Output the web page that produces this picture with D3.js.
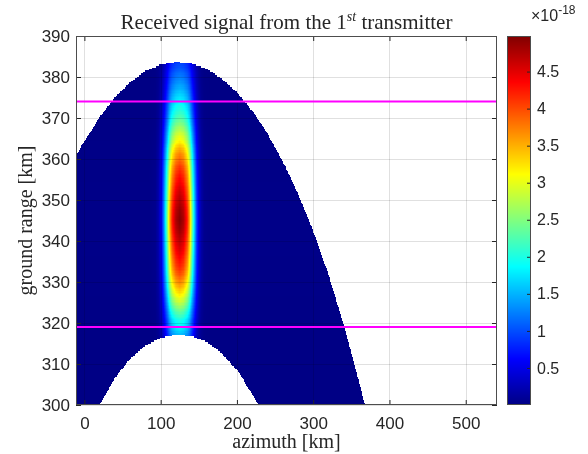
<!DOCTYPE html>
<html>
<head>
<meta charset="utf-8">
<script src="https://cdn.jsdelivr.net/npm/d3@7"></script>
<style>
  body { margin: 0; background: #fff; }
  #wrap { position: relative; width: 588px; height: 454px; }
  #wrap canvas, #wrap svg { position: absolute; left: 0; top: 0; }
  .tick text { font-family: "Liberation Sans", Arial, sans-serif; font-size: 17px; fill: #262626; }
  .cbar .tick text { font-size: 16px; }
  .serif { font-family: "Liberation Serif", "Times New Roman", serif; fill: #262626; }
</style>
</head>
<body>
<div id="wrap">
  <canvas id="img" width="588" height="454"></canvas>
  <svg id="chart" width="588" height="454"></svg>
</div>
<script>
// axis ticks
const xTicks = [0, 100, 200, 300, 400, 500];
const yTicks = [300, 310, 320, 330, 340, 350, 360, 370, 380, 390];
const cbTicks = [0.5, 1, 1.5, 2, 2.5, 3, 3.5, 4, 4.5];

// outer edge of the footprint (ground range km at azimuth km)
const upperAz = [-11, 0, 20, 40, 60, 80, 100, 120, 140, 160, 180, 200, 220, 240, 260, 280, 300, 320, 340, 360, 370, 541];
const upperGr = [360.9, 364.3, 370.2, 375.0, 378.7, 381.4, 383.0, 383.7, 383.3, 382.0, 379.6, 376.2, 371.7, 366.2, 359.5, 351.6, 342.4, 331.8, 319.6, 305.8, 298.2, 250];

// white hole at the bottom
const holeAz = [-11, 20, 40, 60, 80, 100, 120, 140, 160, 180, 200, 220, 228, 541];
const holeGr = [280, 300.0, 306.6, 311.3, 314.5, 316.4, 317.2, 316.9, 315.4, 312.6, 308.5, 302.8, 300.0, 280];

// signal along the beam centre (x1e-18) vs ground range
const rangeGr = [300, 310, 317, 318.3, 320.7, 323.2, 325.6, 328, 330.5, 333, 337.8, 342.7, 345.1, 347.6, 352.4, 357.3, 361.8, 364.2, 367.5, 370.7, 374, 377.2, 380.5, 384, 390];
const rangeVal = [0.6, 1.0, 1.5, 1.75, 2.0, 2.45, 2.95, 3.4, 3.8, 4.15, 4.55, 4.88, 4.97, 4.9, 4.6, 4.2, 3.65, 3.2, 2.7, 2.2, 1.85, 1.5, 1.2, 0.9, 0.5];

// relative beam pattern vs azimuth offset from the beam centre (km)
const beamOffset = [0, 5, 10, 13, 16, 19, 22, 25, 28, 32, 40, 600];
const beamGain = [1, 0.96, 0.85, 0.72, 0.52, 0.35, 0.2, 0.1, 0.04, 0.01, 0.004, 0.004];
const beamCentre = 125;

// magenta marker lines
const markerRanges = [374, 319];

const cMax = 4.98;

const plot = { left: 76, right: 497, top: 36, bottom: 405 };
const cb = { left: 507, right: 531 };

const x = d3.scaleLinear().domain([-11, 541]).range([plot.left, plot.right]);
const y = d3.scaleLinear().domain([300, 390]).range([plot.bottom, plot.top]);
const cy = d3.scaleLinear().domain([0, cMax]).range([plot.bottom, plot.top]);

const upper = d3.scaleLinear().domain(upperAz).range(upperGr);
const hole = d3.scaleLinear().domain(holeAz).range(holeGr);
const rangeProf = d3.scaleLinear().domain(rangeGr).range(rangeVal).clamp(true);
const beam = d3.scaleLinear().domain(beamOffset).range(beamGain).clamp(true);

const jet = d3.scaleLinear()
  .domain([0, 0.125, 0.375, 0.625, 0.875, 1].map(t => t * cMax))
  .range(['#000084', '#0000ff', '#00ffff', '#ffff00', '#ff0000', '#800000'])
  .clamp(true);

// ---- heat map on canvas
const ctx = document.getElementById('img').getContext('2d');
const nCols = 421, nRows = 246;
const dAz = (541 + 11) / nCols, dGr = 90 / nRows;

for (let i = 0; i < nCols; i++) {
  let a0 = -11 + i * dAz, a1 = a0 + dAz, ac = a0 + dAz / 2;
  let top = upper(ac), bot = hole(ac);
  let px0 = Math.round(x(a0)), px1 = Math.round(x(a1));
  for (let j = 0; j < nRows; j++) {
    let g0 = 300 + j * dGr, g1 = g0 + dGr, gc = g0 + dGr / 2;
    if (gc > top || gc < bot) continue;
    let v = rangeProf(gc) * beam(Math.abs(ac - beamCentre));
    ctx.fillStyle = jet(v);
    let py0 = Math.round(y(g1)), py1 = Math.round(y(g0));
    ctx.fillRect(px0, py0, px1 - px0, py1 - py0);
  }
}

// colour bar
for (let p = plot.top; p < plot.bottom; p++) {
  ctx.fillStyle = jet(cy.invert(p + 0.5));
  ctx.fillRect(cb.left, p, cb.right - cb.left, 1);
}

// ---- svg overlay
const svg = d3.select('#chart');

// grid on top of the image
const grid = svg.append('g').attr('stroke', '#000').attr('stroke-opacity', 0.12).attr('shape-rendering', 'crispEdges');
grid.selectAll('.gx').data(xTicks).enter().append('line')
  .attr('x1', d => Math.round(x(d)) + 0.5).attr('x2', d => Math.round(x(d)) + 0.5)
  .attr('y1', plot.top).attr('y2', plot.bottom);
grid.selectAll('.gy').data(yTicks).enter().append('line')
  .attr('y1', d => Math.round(y(d)) + 0.5).attr('y2', d => Math.round(y(d)) + 0.5)
  .attr('x1', plot.left).attr('x2', plot.right);

// magenta lines
svg.selectAll('.marker').data(markerRanges).enter().append('line')
  .attr('x1', plot.left).attr('x2', plot.right)
  .attr('y1', d => y(d)).attr('y2', d => y(d))
  .attr('stroke', '#ff00ff').attr('stroke-width', 2);

// axes
function styleAxis(g) {
  g.select('.domain').remove();
  g.selectAll('.tick line').attr('stroke', '#262626');
}
svg.append('g').attr('transform', `translate(0,${plot.bottom})`)
  .call(d3.axisBottom(x).tickValues(xTicks).tickSizeInner(-5).tickSizeOuter(0).tickPadding(12))
  .call(styleAxis);
svg.append('g').attr('transform', `translate(0,${plot.top})`)
  .call(d3.axisTop(x).tickValues(xTicks).tickSizeInner(-5).tickSizeOuter(0).tickFormat(''))
  .call(styleAxis);
svg.append('g').attr('transform', `translate(${plot.left},0)`)
  .call(d3.axisLeft(y).tickValues(yTicks).tickSizeInner(-5).tickSizeOuter(0).tickPadding(6))
  .call(styleAxis);
svg.append('g').attr('transform', `translate(${plot.right},0)`)
  .call(d3.axisRight(y).tickValues(yTicks).tickSizeInner(-5).tickSizeOuter(0).tickFormat(''))
  .call(styleAxis);

svg.append('rect')
  .attr('x', plot.left + 0.5).attr('y', plot.top + 0.5)
  .attr('width', plot.right - plot.left - 1).attr('height', plot.bottom - plot.top - 1)
  .attr('fill', 'none').attr('stroke', '#4d4d4d');

// colour bar axis
svg.append('g').attr('class', 'cbar').attr('transform', `translate(${cb.right},0)`)
  .call(d3.axisRight(cy).tickValues(cbTicks).tickSizeInner(-4).tickSizeOuter(0).tickPadding(6).tickFormat(d3.format('')))
  .call(styleAxis);
svg.append('rect')
  .attr('x', cb.left + 0.5).attr('y', plot.top + 0.5)
  .attr('width', cb.right - cb.left - 1).attr('height', plot.bottom - plot.top - 1)
  .attr('fill', 'none').attr('stroke', '#4d4d4d');

const expo = svg.append('text').attr('x', 531).attr('y', 21)
  .style('font-family', '"Liberation Sans", Arial, sans-serif').style('font-size', '16px').attr('fill', '#262626');
expo.append('tspan').text('\u00d710');
expo.append('tspan').attr('dy', -7).style('font-size', '12px').text('-18');

// title and labels
const title = svg.append('text').attr('class', 'serif')
  .attr('x', (plot.left + plot.right) / 2).attr('y', 29)
  .attr('text-anchor', 'middle').style('font-size', '21px');
title.append('tspan').text('Received signal from the 1');
title.append('tspan').attr('dy', -8).style('font-size', '14px').style('font-style', 'italic').text('st');
title.append('tspan').attr('dy', 8).text(' transmitter');

svg.append('text').attr('class', 'serif')
  .attr('x', (plot.left + plot.right) / 2).attr('y', 448)
  .attr('text-anchor', 'middle').style('font-size', '20px')
  .text('azimuth [km]');

svg.append('text').attr('class', 'serif')
  .attr('transform', `translate(32,${(plot.top + plot.bottom) / 2}) rotate(-90)`)
  .attr('text-anchor', 'middle').style('font-size', '20px')
  .text('ground range [km]');
</script>
</body>
</html>
